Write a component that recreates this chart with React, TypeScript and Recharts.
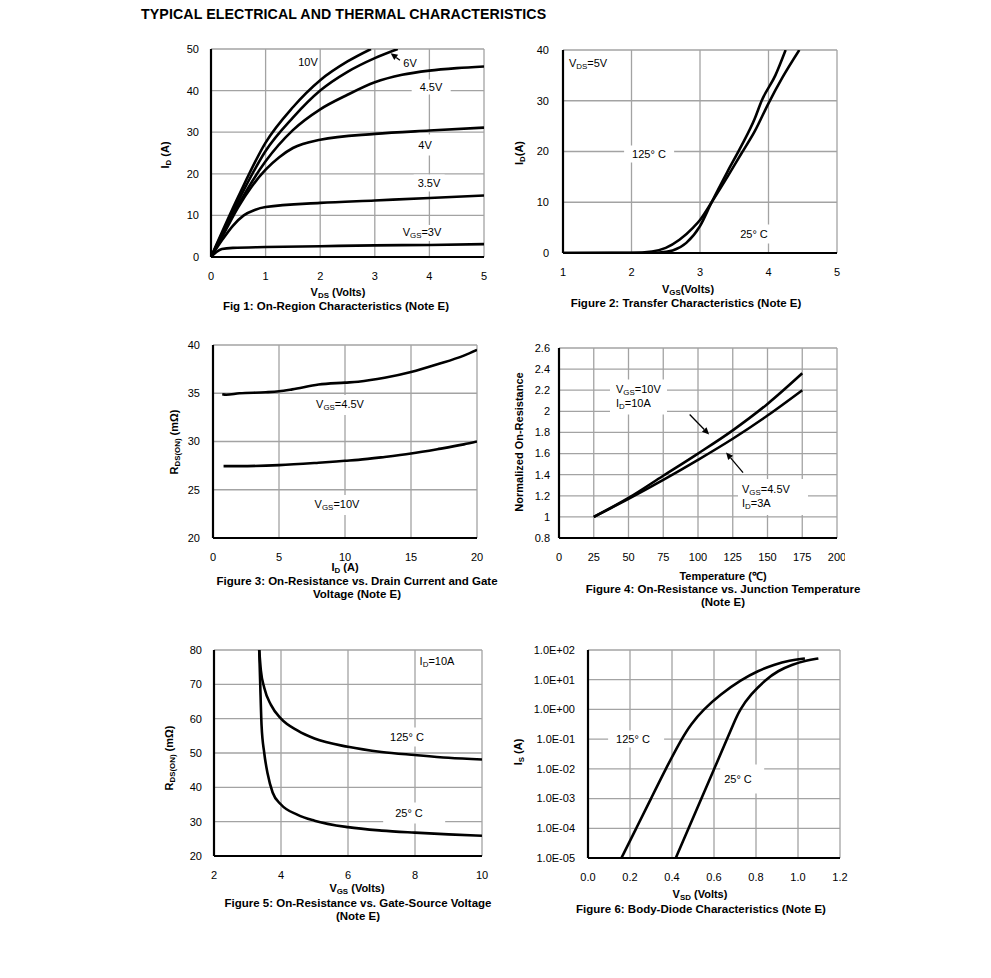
import React from "react";
import {
  LineChart,
  Line,
  XAxis,
  YAxis,
  CartesianGrid,
  ReferenceLine,
} from "recharts";

/* ---------- data ---------- */
type Pt = [number, number];

// Fig 1: ID vs VDS
const fig1XTicks = [0, 1, 2, 3, 4, 5];
const fig1YTicks = [0, 10, 20, 30, 40, 50];
const fig1Vgs10: Pt[] = [[0, 0], [0.5, 14.5], [1, 27.5], [1.5, 36], [2, 42.5], [2.5, 47], [2.93, 50]];
const fig1Vgs6: Pt[] = [[0, 0], [0.5, 13.5], [1, 25.5], [1.5, 33.5], [2, 40], [2.5, 44.5], [3, 47.8], [3.42, 50]];
const fig1Vgs45: Pt[] = [[0, 0], [0.25, 6.3], [0.5, 12.5], [1, 23], [1.5, 30.5], [2, 35.5], [2.5, 39], [3, 42], [3.5, 43.8], [4, 44.8], [4.5, 45.4], [5, 45.8]];
const fig1Vgs4: Pt[] = [[0, 0], [0.25, 6], [0.5, 12], [0.75, 17], [1, 21], [1.25, 24], [1.5, 26.2], [2, 28.2], [3, 29.6], [4, 30.4], [5, 31.1]];
const fig1Vgs35: Pt[] = [[0, 0], [0.2, 4], [0.4, 7.5], [0.6, 10], [0.8, 11.3], [1, 12], [2, 13], [3, 13.6], [4, 14.2], [5, 14.8]];
const fig1Vgs3: Pt[] = [[0, 0], [0.1, 1.2], [0.2, 1.9], [0.4, 2.2], [1, 2.4], [2, 2.6], [3, 2.8], [4, 2.9], [5, 3.1]];

// Fig 2: ID vs VGS
const fig2XTicks = [1, 2, 3, 4, 5];
const fig2YTicks = [0, 10, 20, 30, 40];
const fig2T125: Pt[] = [[1, 0], [2, 0.05], [2.3, 0.3], [2.5, 1], [2.7, 2.6], [2.9, 5], [3.0, 6.5], [3.17, 10], [3.4, 15], [3.6, 19.5], [3.8, 24], [4.0, 29.5], [4.2, 34.5], [4.45, 40]];
const fig2T25: Pt[] = [[1, 0], [2, 0], [2.4, 0.1], [2.6, 0.5], [2.8, 2], [3.0, 5.3], [3.17, 10], [3.4, 16], [3.6, 21], [3.8, 26.5], [3.9, 30], [4.1, 35], [4.25, 40]];

// Fig 3: RDS(ON) vs ID
const fig3XTicks = [0, 5, 10, 15, 20];
const fig3YTicks = [20, 25, 30, 35, 40];
const fig3Vgs45: Pt[] = [[0.7, 34.9], [1, 34.85], [2, 35], [4, 35.1], [5, 35.2], [6, 35.4], [8, 35.9], [10, 36.1], [11, 36.2], [13, 36.6], [15, 37.2], [17, 38], [19, 38.9], [20, 39.5]];
const fig3Vgs10: Pt[] = [[0.8, 27.45], [2, 27.45], [5, 27.55], [8, 27.8], [10, 28], [11, 28.1], [13, 28.4], [15, 28.75], [17, 29.2], [19, 29.7], [20, 30]];

// Fig 4: normalized RDS(ON) vs temperature
const fig4XTicks = [0, 25, 50, 75, 100, 125, 150, 175, 200];
const fig4YTicks = [0.8, 1, 1.2, 1.4, 1.6, 1.8, 2, 2.2, 2.4, 2.6];
const fig4Vgs10: Pt[] = [[25, 1], [50, 1.18], [75, 1.39], [100, 1.6], [125, 1.82], [150, 2.07], [175, 2.36]];
const fig4Vgs45: Pt[] = [[25, 1], [50, 1.17], [75, 1.35], [100, 1.54], [125, 1.74], [150, 1.96], [175, 2.2]];

// Fig 5: RDS(ON) vs VGS
const fig5XTicks = [2, 4, 6, 8, 10];
const fig5YTicks = [20, 30, 40, 50, 60, 70, 80];
const fig5T125: Pt[] = [[3.35, 80], [3.4, 74], [3.5, 69], [3.7, 64], [4, 60], [4.5, 56.5], [5, 54.2], [6, 51.8], [7, 50.3], [8, 49.4], [9, 48.6], [10, 48.1]];
const fig5T25: Pt[] = [[3.35, 80], [3.38, 70], [3.42, 58], [3.5, 50], [3.6, 44], [3.75, 38.5], [4, 35], [4.5, 32], [5, 30.3], [6, 28.4], [7, 27.4], [8, 26.8], [9, 26.3], [10, 25.9]];

// Fig 6: body diode IS vs VSD (log)
const fig6XTicks = [0, 0.2, 0.4, 0.6, 0.8, 1.0, 1.2];
const fig6YTicks = [1e-5, 1e-4, 1e-3, 1e-2, 1e-1, 1e0, 1e1, 1e2];
const fig6T125: Pt[] = [[0.159, 1e-5], [0.23, 1e-4], [0.3, 1e-3], [0.37, 1e-2], [0.445, 0.1], [0.49, 0.32], [0.55, 1], [0.63, 3.2], [0.73, 10], [0.81, 20], [0.885, 32], [0.96, 45], [1.033, 52]];
const fig6T25: Pt[] = [[0.418, 1e-5], [0.479, 1e-4], [0.54, 1e-3], [0.601, 1e-2], [0.662, 0.1], [0.692, 0.32], [0.723, 1], [0.775, 3.2], [0.845, 10], [0.905, 20], [0.97, 32], [1.04, 45], [1.097, 52]];

// arrows (data coords)
const fig1Arrow: Pt[] = [[3.46, 47.3], [3.29, 49.0]];
const fig4Arrow10: Pt[] = [[94, 1.97], [108, 1.78]];
const fig4Arrow45: Pt[] = [[132.4, 1.42], [120.2, 1.61]];

/* ---------- helpers ---------- */
const FONT = '"Liberation Sans", Arial, sans-serif';
const toObj = (d: Pt[]) => d.map(([x, y]) => ({ x, y }));
const fmtSci = (v: number) => {
  const [m, e] = v.toExponential(1).split("e");
  const n = parseInt(e, 10);
  return `${m}E${n < 0 ? "-" : "+"}${String(Math.abs(n)).padStart(2, "0")}`;
};

const Sub = ({ c }: { c: string }) => (
  <span style={{ fontSize: "0.72em", position: "relative", top: "0.3em" }}>{c}</span>
);

const arrowShape = (p: any) => {
  const { x1, y1, x2, y2 } = p;
  const a = Math.atan2(y2 - y1, x2 - x1);
  const L = 7, W = 3.2;
  const bx = x2 - L * Math.cos(a), by = y2 - L * Math.sin(a);
  const pts = `${x2},${y2} ${bx + W * Math.sin(a)},${by - W * Math.cos(a)} ${bx - W * Math.sin(a)},${by + W * Math.cos(a)}`;
  return (
    <g>
      <line x1={x1} y1={y1} x2={bx} y2={by} stroke="#000" strokeWidth={1.3} />
      <polygon points={pts} fill="#000" />
    </g>
  );
};

interface PanelProps {
  left: number; top: number; w: number; h: number;
  xDomain: [number, number]; xTicks: number[];
  yDomain: [number, number]; yTicks: number[];
  yGap: number; yLog?: boolean;
  xFmt?: (v: number) => string; yFmt?: (v: number) => string;
  series: Pt[][];
  arrows?: Pt[][];
  curve?: "monotone" | "basis";
}

const ML = 70, MT = 6, MR = 8, MB = 32;

function Panel(p: PanelProps) {
  return (
    <div style={{ position: "absolute", left: p.left - ML, top: p.top - MT }}>
      <LineChart
        width={ML + p.w + MR}
        height={MT + p.h + MB}
        margin={{ top: MT, right: MR, left: 0, bottom: 0 }}
      >
        <CartesianGrid stroke="#a3a3a3" strokeWidth={1.3} />
        <XAxis
          type="number"
          dataKey="x"
          domain={p.xDomain}
          ticks={p.xTicks}
          interval={0}
          allowDataOverflow
          height={MB}
          tickLine={false}
          tickSize={0}
          tickMargin={15}
          tickFormatter={p.xFmt}
          axisLine={{ stroke: "#000", strokeWidth: 2.2 }}
          tick={{ fill: "#000", fontSize: 11 }}
        />
        <YAxis
          type="number"
          dataKey="y"
          scale={p.yLog ? "log" : "auto"}
          domain={p.yDomain}
          ticks={p.yTicks}
          interval={0}
          allowDataOverflow
          width={ML}
          tickLine={false}
          tickSize={0}
          tickMargin={p.yGap}
          tickFormatter={p.yFmt}
          axisLine={{ stroke: "#000", strokeWidth: 2.2 }}
          tick={{ fill: "#000", fontSize: 11 }}
        />
        {p.series.map((s, i) => (
          <Line
            key={i}
            data={toObj(s)}
            dataKey="y"
            type={p.curve ?? "monotone"}
            stroke="#000"
            strokeWidth={2.6}
            dot={false}
            isAnimationActive={false}
          />
        ))}
        {(p.arrows ?? []).map((a, i) => (
          <ReferenceLine
            key={"a" + i}
            segment={[{ x: a[0][0], y: a[0][1] }, { x: a[1][0], y: a[1][1] }]}
            shape={arrowShape}
          />
        ))}
      </LineChart>
    </div>
  );
}

/* centred text, page coords */
const T = ({ x, y, bold, children, box, rot, left, size }: any) => (
  <div
    style={{
      position: "absolute",
      left: x,
      top: y,
      transform: `${left ? "translate(0,-50%)" : "translate(-50%,-50%)"}${rot ? " rotate(-90deg)" : ""}`,
      whiteSpace: "nowrap",
      fontSize: size ?? 11,
      lineHeight: "13px",
      fontWeight: bold ? 700 : 400,
      background: box ? "#fff" : "transparent",
      padding: box ? box : 0,
      textAlign: "left",
    }}
  >
    {children}
  </div>
);

const CAP = 11.5;

export default function App() {
  return (
    <div
      style={{
        position: "absolute",
        left: 0,
        top: 0,
        width: 991,
        height: 978,
        background: "#fff",
        fontFamily: FONT,
        color: "#000",
      }}
    >
      <div style={{ position: "absolute", left: 141, top: 6, fontSize: 14.2, fontWeight: 700, whiteSpace: "nowrap", letterSpacing: 0.1 }}>
        TYPICAL ELECTRICAL AND THERMAL CHARACTERISTICS
      </div>

      {/* Fig 1 */}
      <Panel left={211} top={49} w={273} h={208} xDomain={[0, 5]} xTicks={fig1XTicks} yDomain={[0, 50]} yTicks={fig1YTicks} yGap={12}
        series={[fig1Vgs10, fig1Vgs6, fig1Vgs45, fig1Vgs4, fig1Vgs35, fig1Vgs3]} arrows={[fig1Arrow]} />
      <T x={308} y={62}>10V</T>
      <T x={410} y={63}>6V</T>
      <T x={431} y={87} box="1px 8px">4.5V</T>
      <T x={425} y={145} box="4px 4px">4V</T>
      <T x={429} y={183} box="2px 4px">3.5V</T>
      <T x={422} y={233} box="1px 3px">V<Sub c="GS" />=3V</T>
      <T x={166} y={155} bold rot>I<Sub c="D" /> (A)</T>
      <T x={338} y={293} bold>V<Sub c="DS" /> (Volts)</T>
      <T x={336} y={306} bold size={CAP}>Fig 1: On-Region Characteristics (Note E)</T>

      {/* Fig 2 */}
      <Panel left={563} top={50} w={274} h={203} xDomain={[1, 5]} xTicks={fig2XTicks} yDomain={[0, 40]} yTicks={fig2YTicks} yGap={14}
        series={[fig2T125, fig2T25]} />
      <T x={588} y={64}>V<Sub c="DS" />=5V</T>
      <T x={649} y={154} box="2px 8px">125° C</T>
      <T x={754} y={234} box="3px 4px">25° C</T>
      <T x={520} y={153} bold rot>I<Sub c="D" />(A)</T>
      <T x={688} y={290} bold>V<Sub c="GS" />(Volts)</T>
      <T x={686} y={303} bold size={CAP}>Figure 2: Transfer Characteristics (Note E)</T>

      {/* Fig 3 */}
      <Panel left={213} top={345} w={264} h={193} xDomain={[0, 20]} xTicks={fig3XTicks} yDomain={[20, 40]} yTicks={fig3YTicks} yGap={13}
        series={[fig3Vgs45, fig3Vgs10]} />
      <T x={340} y={405} box="3px 4px">V<Sub c="GS" />=4.5V</T>
      <T x={337} y={505} box="3px 4px">V<Sub c="GS" />=10V</T>
      <T x={175} y={442} bold rot>R<Sub c="DS(ON)" /> (mΩ)</T>
      <T x={345} y={568} bold>I<Sub c="D" /> (A)</T>
      <T x={357} y={581} bold size={CAP}>Figure 3: On-Resistance vs. Drain Current and Gate</T>
      <T x={357} y={594} bold size={CAP}>Voltage (Note E)</T>

      {/* Fig 4 */}
      <Panel left={559} top={348} w={278} h={190} xDomain={[0, 200]} xTicks={fig4XTicks} yDomain={[0.8, 2.6]} yTicks={fig4YTicks} yGap={9}
        series={[fig4Vgs10, fig4Vgs45]} arrows={[fig4Arrow10, fig4Arrow45]} />
      <T x={610} y={397} left box="3px 6px 4px 6px">
        <div>V<Sub c="GS" />=10V</div>
        <div>I<Sub c="D" />=10A</div>
      </T>
      <T x={738} y={497} left box="4px 18px 4px 4px">
        <div>V<Sub c="GS" />=4.5V</div>
        <div>I<Sub c="D" />=3A</div>
      </T>
      <T x={519} y={442} bold rot>Normalized On-Resistance</T>
      <T x={723} y={576} bold>Temperature (℃)</T>
      <T x={723} y={589} bold size={CAP}>Figure 4: On-Resistance vs. Junction Temperature</T>
      <T x={723} y={602} bold size={CAP}>(Note E)</T>

      {/* Fig 5 */}
      <Panel left={214} top={650} w={268} h={206} xDomain={[2, 10]} xTicks={fig5XTicks} yDomain={[20, 80]} yTicks={fig5YTicks} yGap={12}
        series={[fig5T125, fig5T25]} />
      <T x={437} y={662}>I<Sub c="D" />=10A</T>
      <T x={407} y={737} box="3px 4px">125° C</T>
      <T x={414} y={813} box="4px 22px 4px 12px">25° C</T>
      <T x={170} y={758} bold rot>R<Sub c="DS(ON)" /> (mΩ)</T>
      <T x={357} y={889} bold>V<Sub c="GS" /> (Volts)</T>
      <T x={358} y={903} bold size={CAP}>Figure 5: On-Resistance vs. Gate-Source Voltage</T>
      <T x={358} y={916} bold size={CAP}>(Note E)</T>

      {/* Fig 6 */}
      <Panel left={588} top={650} w={252} h={208} xDomain={[0, 1.2]} xTicks={fig6XTicks} yDomain={[1e-5, 100]} yTicks={fig6YTicks} yGap={13} yLog
        xFmt={(v) => v.toFixed(1)} yFmt={fmtSci} series={[fig6T125, fig6T25]} curve="basis" />
      <T x={636} y={739} box="2px 14px 2px 8px">125° C</T>
      <T x={742} y={779} box="8px 12px 8px 4px">25° C</T>
      <T x={519} y={752} bold rot>I<Sub c="S" /> (A)</T>
      <T x={700} y={895} bold>V<Sub c="SD" /> (Volts)</T>
      <T x={701} y={909} bold size={CAP}>Figure 6: Body-Diode Characteristics (Note E)</T>
    </div>
  );
}
